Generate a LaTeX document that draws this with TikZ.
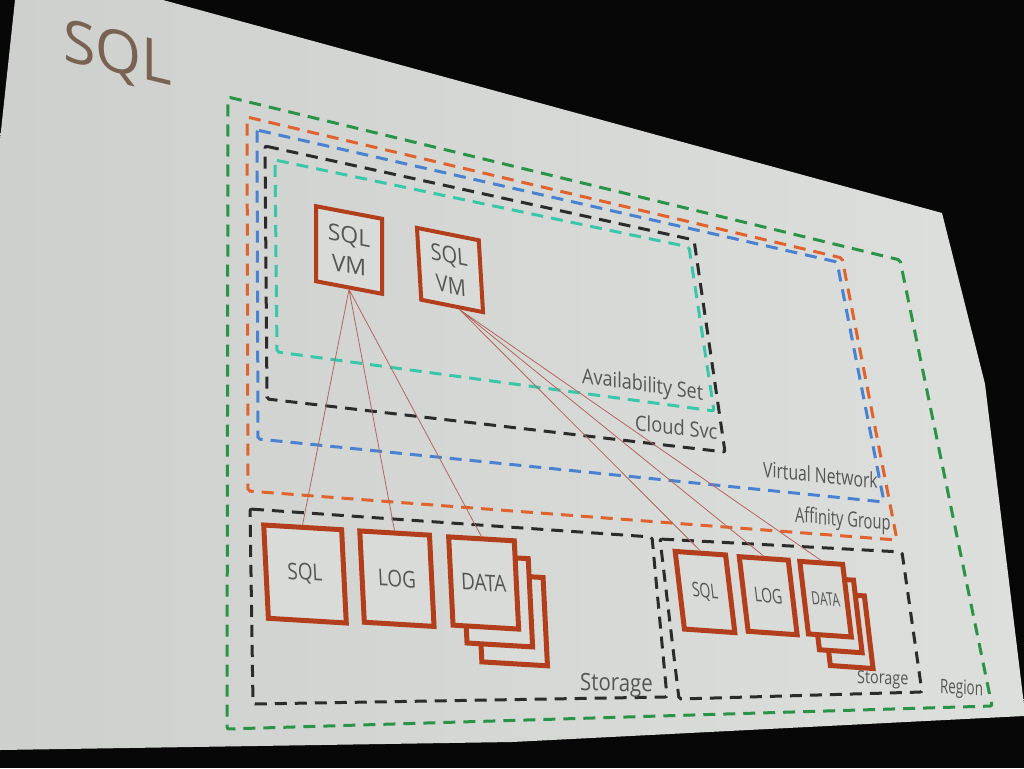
\documentclass[tikz,border=0pt]{standalone}
\usepackage{fontspec}
\setmainfont{Open Sans}
\usetikzlibrary{positioning}

\definecolor{bgblack}{HTML}{070707}
\definecolor{screenL}{HTML}{CDD0CD}
\definecolor{screenR}{HTML}{DDDFDC}
\definecolor{screen}{HTML}{D8DBD8}
\definecolor{diskred}{HTML}{B23E1C}
\definecolor{linkred}{HTML}{B4665C}
\definecolor{regiongreen}{HTML}{2A9446}
\definecolor{affinityorange}{HTML}{E0632D}
\definecolor{vnetblue}{HTML}{4A82D2}
\definecolor{svcblack}{HTML}{2B2B2B}
\definecolor{availteal}{HTML}{38C7AA}
\definecolor{txt}{HTML}{555555}
\definecolor{titlebrown}{HTML}{7A6252}

\tikzset{
  zone/.style={line width=3pt, dash pattern=on 12pt off 8pt, rounded corners=2pt},
  vm/.style={draw=diskred, line width=4pt, fill=screen, text=txt, align=center,
    font=\fontsize{23}{30}\selectfont, inner sep=0pt},
  disk/.style={draw=diskred, line width=5pt, fill=screen, text=txt,
    font=\fontsize{23}{25}\selectfont, inner sep=0pt},
  lbl/.style={text=txt, font=\fontsize{21}{23}\selectfont, inner sep=0pt, anchor=base west},
  link/.style={draw=linkred, line width=0.8pt}
}

\begin{document}
\begin{tikzpicture}[x=1pt,y=-1pt]
\useasboundingbox (0,0) rectangle (1024,768);
\fill[bgblack] (0,0) rectangle (1024,768);
\shade[left color=screenL, right color=screenR] (15,0) -- (163,0) -- (942,213) -- (985,384)
  -- (1024,705) -- (1024,716) -- (512,742) -- (0,750) -- (0,140) -- cycle;

% title
\node[text=titlebrown, font=\fontsize{59}{60}\selectfont, inner sep=0pt, anchor=base west,
  yslant=-0.24] (title) at (63,60) {SQL};

% zones
\draw[zone, regiongreen] (228,97) -- (900,260) -- (992,706) -- (227,729) -- cycle;
\draw[zone, affinityorange] (247,117) -- (842,258) -- (897,540) -- (248,491) -- cycle;
\draw[zone, vnetblue] (257,130) -- (837,262) -- (884,502) -- (258,439) -- cycle;
\draw[zone, svcblack] (265,146) -- (694,240) -- (725,452) -- (267,399) -- cycle;
\draw[zone, availteal] (275,160) -- (689,247) -- (714,411) -- (277,352) -- cycle;
\draw[zone, svcblack] (250,509) -- (652,537) -- (667,697) -- (253,704) -- cycle;
\draw[zone, svcblack] (660,539) -- (902,552) -- (922,692) -- (679,699) -- cycle;

\node[lbl, yslant=-0.14, xscale=0.86] (availlbl) at (582,383) {Availability Set};
\node[lbl, yslant=-0.12, xscale=0.87] (svclbl) at (635,430) {Cloud Svc};
\node[lbl, yslant=-0.1, xscale=0.75] (vnetlbl) at (763,477) {Virtual Network};
\node[lbl, yslant=-0.09, xscale=0.7] (affinitylbl) at (795,522) {Affinity Group};
\node[lbl, font=\fontsize{24}{26}\selectfont, yslant=-0.03, xscale=0.85] (storelbl1) at (580,690) {Storage};
\node[lbl, font=\fontsize{18}{20}\selectfont, yslant=-0.04, xscale=0.8] (storelbl2) at (857,683) {Storage};
\node[lbl, font=\fontsize{20}{22}\selectfont, yslant=-0.06, xscale=0.67] (regionlbl) at (940,693) {Region};

% virtual machines
\node[vm, yslant=-0.19, minimum width=66pt, minimum height=75pt] (vm1) at (349,250) {SQL\\VM};
\node[vm, yslant=-0.2, xslant=-0.06, xscale=0.87, minimum width=71pt, minimum height=71pt]
  (vm2) at (450,270) {SQL\\VM};

% storage 1
\node[disk, yslant=-0.06, xslant=-0.05, xscale=0.82, minimum width=95pt, minimum height=93pt]
  (sql1) at (305,574) {SQL};
\node[disk, yslant=-0.06, xslant=-0.05, xscale=0.82, minimum width=85pt, minimum height=91pt,
  right=14pt of sql1] (log1) {LOG};
\node[disk, yslant=-0.06, xslant=-0.05, xscale=0.82, minimum width=80pt, minimum height=88pt,
  right=15pt of log1, xshift=33pt, yshift=-35pt] (data1c) {};
\node[disk, yslant=-0.06, xslant=-0.05, xscale=0.82, minimum width=80pt, minimum height=88pt,
  right=15pt of log1, xshift=16pt, yshift=-17pt] (data1b) {};
\node[disk, yslant=-0.06, xslant=-0.05, xscale=0.82, minimum width=80pt, minimum height=88pt,
  right=15pt of log1] (data1) {DATA};

% storage 2
\node[disk, font=\fontsize{20}{22}\selectfont, yslant=-0.07, xslant=-0.12, xscale=0.7,
  minimum width=72pt, minimum height=77pt] (sql2) at (705,592) {SQL};
\node[disk, font=\fontsize{20}{22}\selectfont, yslant=-0.07, xslant=-0.12, xscale=0.7,
  minimum width=70pt, minimum height=74pt, right=10pt of sql2] (log2) {LOG};
\node[disk, yslant=-0.07, xslant=-0.12, xscale=0.7, minimum width=61pt, minimum height=72pt,
  right=8pt of log2, xshift=26pt, yshift=-30pt] (data2c) {};
\node[disk, yslant=-0.07, xslant=-0.12, xscale=0.7, minimum width=61pt, minimum height=72pt,
  right=8pt of log2, xshift=13pt, yshift=-15pt] (data2b) {};
\node[disk, font=\fontsize{18}{20}\selectfont, yslant=-0.07, xslant=-0.12, xscale=0.66,
  minimum width=65pt, minimum height=72pt, right=8pt of log2] (data2) {DATA};

% links
\draw[link] (vm1.south) -- (sql1.north)
  (vm1.south) -- (log1.north)
  (vm1.south) -- (data1.north)
  (vm2.-78) -- (sql2.north)
  (vm2.-78) -- (log2.north)
  (vm2.-78) -- (data2.north);
\end{tikzpicture}
\end{document}
